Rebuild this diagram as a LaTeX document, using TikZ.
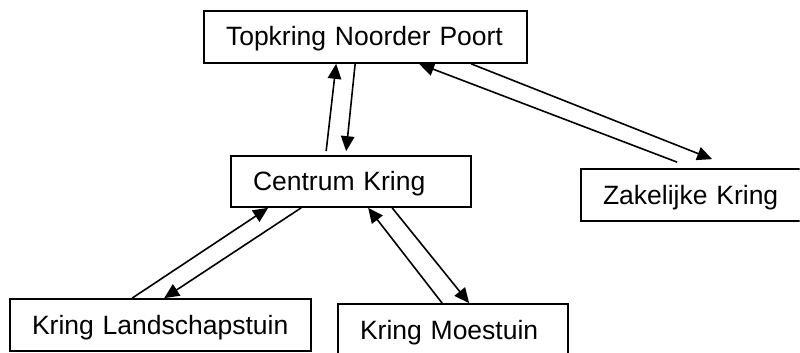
\documentclass[tikz,border=0pt]{standalone}
\usepackage{fontspec}
\setmainfont{Liberation Sans}
\usetikzlibrary{arrows.meta}
\begin{document}
\begin{tikzpicture}[x=1pt,y=-1pt,
  kbox/.style={draw, line width=1.7pt, rectangle, align=left, inner xsep=22pt, inner ysep=0pt,
    minimum height=52pt, text height=19pt, text depth=1pt,
    font=\fontsize{26.5}{30}\selectfont},
  conn/.style={line width=1.6pt, -{Triangle[length=15pt,width=13.5pt]}}]
\useasboundingbox[fill=white] (0,0) rectangle (800,353);
\clip (0,0) rectangle (799.5,353);
\node[kbox, text width=279pt] (top) at (365.5,37) {\mbox{Topkring Noorder Poort}};
\node[kbox, text width=196pt, minimum height=51pt] (cen) at (351,181.5) {\mbox{Centrum Kring}};
\node[kbox, text width=240pt] (zak) at (723,195) {\mbox{Zakelijke Kring}};
\node[kbox, text width=257pt] (land) at (160.5,325) {\mbox{Kring Landschapstuin}};
\node[kbox, text width=186pt] (moe) at (453,330) {\mbox{Kring Moestuin}};
% Centrum <-> Topkring
\draw[conn] ([xshift=96pt,yshift=4pt]cen.north west) -- ([xshift=133pt]top.south west);
\draw[conn] ([xshift=152pt]top.south west) -- ([xshift=116pt,yshift=4pt]cen.north west);
% Topkring <-> Zakelijke
\draw[conn] ([xshift=97pt,yshift=6pt]zak.north west) -- ([xshift=216pt]top.south west);
\draw[conn] ([xshift=268pt]top.south west) -- ([xshift=132pt,yshift=9pt]zak.north west);
% Centrum <-> Landschapstuin
\draw[conn] ([xshift=123pt]land.north west) -- ([xshift=38pt]cen.south west);
\draw[conn] ([xshift=71pt]cen.south west) -- ([xshift=155pt]land.north west);
% Centrum <-> Moestuin
\draw[conn] ([xshift=105pt]moe.north west) -- ([xshift=138pt]cen.south west);
\draw[conn] ([xshift=162pt]cen.south west) -- ([xshift=132pt]moe.north west);
\end{tikzpicture}
\end{document}
